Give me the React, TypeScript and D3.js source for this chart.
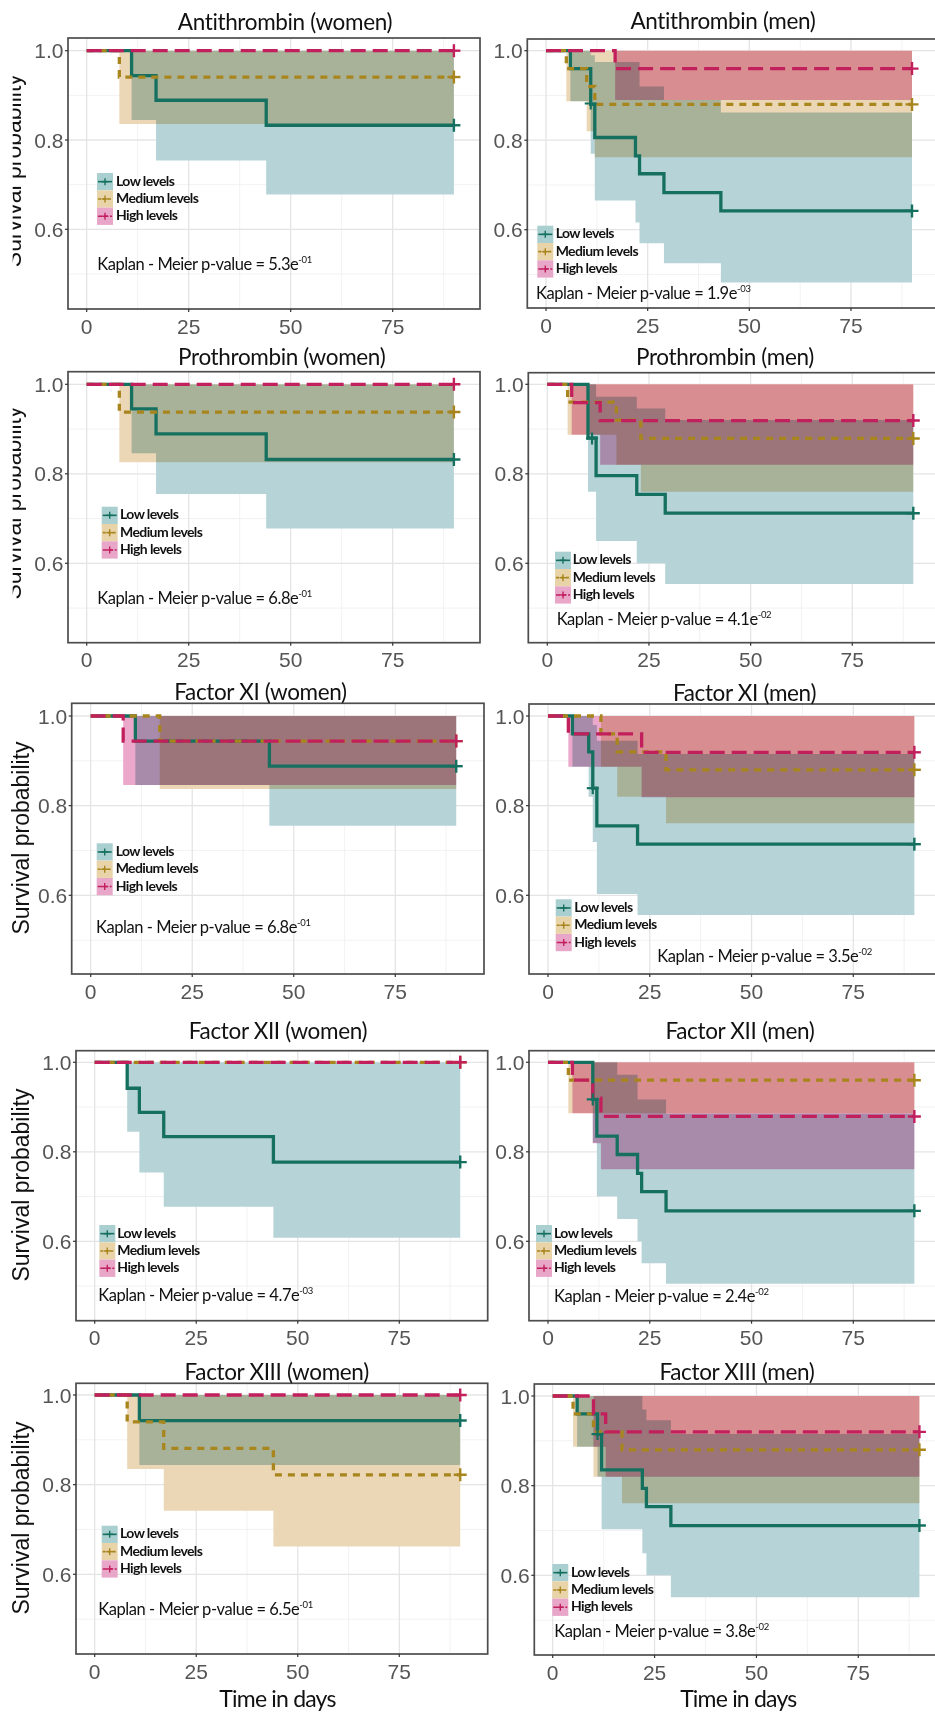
import React from "react"
import * as d3 from "d3"

// Kaplan-Meier steps: [time, survival, lower CI, upper CI]
const followUp = 90

const atWomenLow = [[0, 1, 1, 1], [11, 0.944, 0.845, 1], [17, 0.889, 0.754, 1], [44, 0.833, 0.678, 1]]
const atWomenMed = [[0, 1, 1, 1], [8, 0.941, 0.836, 1]]
const atWomenHigh = [[0, 1, 1, 1]]

const atMenLow = [[0, 1, 1, 1], [6, 0.96, 0.887, 1], [11, 0.88, 0.77, 0.99], [12, 0.806, 0.665, 0.975], [22, 0.765, 0.616, 0.975], [23, 0.725, 0.57, 0.92], [29, 0.683, 0.525, 0.89], [43, 0.642, 0.482, 0.862]]
const atMenMed = [[0, 1, 1, 1], [5, 0.96, 0.887, 1], [10, 0.92, 0.82, 1], [12, 0.88, 0.762, 1]]
const atMenHigh = [[0, 1, 1, 1], [17, 0.96, 0.89, 1]]

const ptWomenLow = [[0, 1, 1, 1], [11, 0.945, 0.846, 1], [17, 0.889, 0.755, 1], [44, 0.832, 0.678, 1]]
const ptWomenMed = [[0, 1, 1, 1], [8, 0.938, 0.826, 1]]
const ptWomenHigh = [[0, 1, 1, 1]]

const ptMenLow = [[0, 1, 1, 1], [10, 0.88, 0.76, 1], [12, 0.796, 0.65, 0.972], [22, 0.754, 0.6, 0.946], [29, 0.712, 0.554, 0.92]]
const ptMenMed = [[0, 1, 1, 1], [5, 0.96, 0.887, 1], [17, 0.92, 0.82, 1], [23, 0.879, 0.76, 1]]
const ptMenHigh = [[0, 1, 1, 1], [6, 0.959, 0.887, 1], [13, 0.919, 0.82, 1]]

const f11WomenLow = [[0, 1, 1, 1], [11, 0.944, 0.846, 1], [44, 0.888, 0.755, 1]]
const f11WomenMed = [[0, 1, 1, 1], [17, 0.944, 0.837, 1]]
const f11WomenHigh = [[0, 1, 1, 1], [8, 0.944, 0.846, 1]]

const f11MenLow = [[0, 1, 1, 1], [6, 0.96, 0.887, 1], [10, 0.92, 0.82, 1], [11, 0.839, 0.719, 0.98], [12, 0.755, 0.603, 0.945], [22, 0.714, 0.556, 0.915]]
const f11MenMed = [[0, 1, 1, 1], [13, 0.96, 0.887, 1], [17, 0.92, 0.82, 1], [29, 0.88, 0.761, 1]]
const f11MenHigh = [[0, 1, 1, 1], [5, 0.96, 0.887, 1], [23, 0.919, 0.819, 1]]

const f12WomenLow = [[0, 1, 1, 1], [8, 0.942, 0.845, 1], [11, 0.888, 0.754, 1], [17, 0.834, 0.677, 1], [44, 0.777, 0.608, 1]]
const f12WomenMed = [[0, 1, 1, 1]]
const f12WomenHigh = [[0, 1, 1, 1]]

const f12MenLow = [[0, 1, 1, 1], [11, 0.917, 0.82, 1], [12, 0.835, 0.7, 1], [17, 0.794, 0.65, 0.972], [22, 0.752, 0.6, 0.917], [23, 0.711, 0.551, 0.917], [29, 0.668, 0.505, 0.885]]
const f12MenMed = [[0, 1, 1, 1], [5, 0.96, 0.886, 1]]
const f12MenHigh = [[0, 1, 1, 1], [6, 0.96, 0.886, 1], [11, 0.92, 0.819, 1], [13, 0.879, 0.761, 1]]

const f13WomenLow = [[0, 1, 1, 1], [11, 0.943, 0.844, 1]]
const f13WomenMed = [[0, 1, 1, 1], [8, 0.94, 0.835, 1], [17, 0.881, 0.742, 1], [44, 0.822, 0.662, 1]]
const f13WomenHigh = [[0, 1, 1, 1]]

const f13MenLow = [[0, 1, 1, 1], [6, 0.96, 0.887, 1], [11, 0.915, 0.82, 1], [12, 0.835, 0.703, 1], [22, 0.794, 0.649, 0.97], [23, 0.753, 0.6, 0.946], [29, 0.711, 0.551, 0.915]]
const f13MenMed = [[0, 1, 1, 1], [5, 0.96, 0.887, 1], [10, 0.92, 0.82, 1], [17, 0.88, 0.761, 1]]
const f13MenHigh = [[0, 1, 1, 1], [10, 0.96, 0.887, 1], [13, 0.92, 0.82, 1]]

// censored observations before the end of follow-up (low group only)
const midCensors = [[], [11, 0.882], [], [11, 0.879], [], [11, 0.839], [], [11, 0.917], [], [11, 0.915]]

const titles = [
  "Antithrombin (women)", "Antithrombin (men)",
  "Prothrombin (women)", "Prothrombin (men)",
  "Factor XI (women)", "Factor XI (men)",
  "Factor XII (women)", "Factor XII (men)",
  "Factor XIII (women)", "Factor XIII (men)",
]
const pMantissa = ["5.3", "1.9", "6.8", "4.1", "6.8", "3.5", "4.7", "2.4", "6.5", "3.8"]
const pExponent = ["-01", "-03", "-01", "-02", "-01", "-02", "-03", "-02", "-01", "-02"]

const levelLabels = ["Low levels", "Medium levels", "High levels"]
const xTicks = [0, 25, 50, 75]
const xMinor = [12.5, 37.5, 62.5, 87.5]
const yTicks = [0.6, 0.8, 1.0]
const yMinor = [0.5, 0.7, 0.9]

const curves = [
  [atWomenLow, atWomenMed, atWomenHigh], [atMenLow, atMenMed, atMenHigh],
  [ptWomenLow, ptWomenMed, ptWomenHigh], [ptMenLow, ptMenMed, ptMenHigh],
  [f11WomenLow, f11WomenMed, f11WomenHigh], [f11MenLow, f11MenMed, f11MenHigh],
  [f12WomenLow, f12WomenMed, f12WomenHigh], [f12MenLow, f12MenMed, f12MenHigh],
  [f13WomenLow, f13WomenMed, f13WomenHigh], [f13MenLow, f13MenMed, f13MenHigh],
]

const styles = [
  { line: "#15705f", fill: "#b6d3d7", key: "#a9cfd1", dash: undefined, keyDash: undefined },
  { line: "#a8851d", fill: "#ebd7b6", key: "#e9d4aa", dash: "7,6", keyDash: "3,2" },
  { line: "#c21f5d", fill: "#eba8ca", key: "#e8a7c9", dash: "15,7", keyDash: "4,2" },
]

// layout measured off the composite figure
const layout = [
  { box: [68, 38, 480, 309], x0: 86.7, x75: 392.7, y1: 50.7, y06: 229.3, title: [285, 30], legend: [97, 173, 116], pv: [97.3, 270], yTitle: [20.5, 170.7], cut: 12.7 },
  { box: [527.3, 39, 945, 308], x0: 546, x75: 851, y1: 50.7, y06: 229.7, title: [723, 29], legend: [537.3, 225.7, 555.7], pv: [536, 299] },
  { box: [68, 371.7, 480, 642.7], x0: 86.7, x75: 392.7, y1: 384.3, y06: 563.3, title: [281.7, 365], legend: [101.7, 506.7, 120], pv: [97.3, 604], yTitle: [20.5, 503], cut: 12.7 },
  { box: [528.3, 372.7, 945, 642.7], x0: 547.3, x75: 852.3, y1: 384.3, y06: 563.3, title: [725, 365], legend: [555, 551.7, 572.7], pv: [556.7, 625] },
  { box: [71.7, 703.3, 484, 974], x0: 90.7, x75: 395.3, y1: 716, y06: 895.3, title: [260.5, 700], legend: [96.7, 843.3, 115.7], pv: [96, 932.7], yTitle: [28.5, 838] },
  { box: [529, 704, 945, 974], x0: 548, x75: 853.3, y1: 716, y06: 895.3, title: [744.5, 700.7], legend: [555.7, 899.3, 574.3], pv: [657.3, 961.7], labelCut: 496 },
  { box: [76, 1050.7, 487.7, 1320.7], x0: 94.7, x75: 399.3, y1: 1062.3, y06: 1241.3, title: [278, 1039], legend: [99.3, 1225, 117.3], pv: [98.3, 1300.7], yTitle: [28.5, 1185] },
  { box: [529, 1050.7, 945, 1320.7], x0: 548, x75: 853.3, y1: 1062.3, y06: 1241.3, title: [740, 1039], legend: [536, 1225, 554], pv: [554, 1301.7] },
  { box: [76, 1383.3, 487.7, 1654], x0: 94.7, x75: 399.3, y1: 1395, y06: 1574.3, title: [276.7, 1380], legend: [101.7, 1525.7, 120], pv: [98.3, 1615], yTitle: [28.5, 1518], xTitle: [277.5, 1706.7] },
  { box: [534.3, 1384, 945, 1655], x0: 552.7, x75: 858.3, y1: 1396, y06: 1575.3, title: [737, 1380], legend: [552.3, 1564, 571], pv: [554.3, 1636.7], xTitle: [738.3, 1707] },
]

const W = 935
const H = 1715
const titleFont = "Lato, 'Open Sans', sans-serif"
const axisFont = "'Liberation Sans', Arial, sans-serif"

function Plus({ cx, cy, r, color, w }) {
  return (
    <g stroke={color} strokeWidth={w}>
      <line x1={cx - r} x2={cx + r} y1={cy} y2={cy} />
      <line x1={cx} x2={cx} y1={cy - r} y2={cy + r} />
    </g>
  )
}

function Panel({ i }) {
  const L = layout[i]
  const [l, t, r, b] = L.box
  const x = d3.scaleLinear().domain([0, 75]).range([L.x0, L.x75])
  const y = d3.scaleLinear().domain([0.6, 1]).range([L.y06, L.y1])
  const yTop = y.invert(t)
  const yBot = y.invert(b)
  const xLeft = x.invert(l)
  const xRight = x.invert(r)

  const withEnd = (steps) => [...steps, [followUp, ...steps[steps.length - 1].slice(1)]]
  const band = d3.area()
    .curve(d3.curveStepAfter)
    .x(d => x(d[0]))
    .y0(d => y(d[2]))
    .y1(d => y(d[3]))
  const line = d3.line()
    .curve(d3.curveStepAfter)
    .x(d => x(d[0]))
    .y(d => y(d[1]))

  const clipId = "plot" + i
  const sets = curves[i]
  const [kx, ky, tx] = L.legend
  const rowH = 17.3

  return (
    <g>
      <defs>
        <clipPath id={clipId}>
          <rect x={l} y={t} width={r - l} height={b - t} />
        </clipPath>
        {L.labelCut && (
          <clipPath id={"lab" + i}>
            <rect x={L.labelCut} y={t - 20} width={l - L.labelCut} height={b - t + 40} />
          </clipPath>
        )}
        {L.cut && (
          <clipPath id={"yt" + i}>
            <rect x={L.cut} y={t} width={40} height={b - t} />
          </clipPath>
        )}
      </defs>
      <rect x={l} y={t} width={r - l} height={b - t} fill="#ffffff" />
      <g clipPath={`url(#${clipId})`}>
        {yMinor.filter(v => v > yBot && v < yTop).map(v => (
          <line key={"ym" + v} x1={l} x2={r} y1={y(v)} y2={y(v)} stroke="#f0f0f0" strokeWidth={0.9} />
        ))}
        {xMinor.filter(v => v > xLeft && v < xRight).map(v => (
          <line key={"xm" + v} x1={x(v)} x2={x(v)} y1={t} y2={b} stroke="#f0f0f0" strokeWidth={0.9} />
        ))}
        {yTicks.map(v => (
          <line key={"yg" + v} x1={l} x2={r} y1={y(v)} y2={y(v)} stroke="#e4e4e4" strokeWidth={1.3} />
        ))}
        {xTicks.map(v => (
          <line key={"xg" + v} x1={x(v)} x2={x(v)} y1={t} y2={b} stroke="#e4e4e4" strokeWidth={1.3} />
        ))}
        <g style={{ isolation: "isolate" }}>
          {sets.map((s, k) => (
            <path key={"band" + k} d={band(withEnd(s))} fill={styles[k].fill} style={{ mixBlendMode: "multiply" }} />
          ))}
        </g>
        {sets.map((s, k) => (
          <path key={"line" + k} d={line(withEnd(s))} fill="none" stroke={styles[k].line}
            strokeWidth={3.3} strokeDasharray={styles[k].dash} />
        ))}
        {midCensors[i].length > 0 && (
          <Plus cx={x(midCensors[i][0])} cy={y(midCensors[i][1])} r={6} color={styles[0].line} w={2.2} />
        )}
        {sets.map((s, k) => (
          <Plus key={"cen" + k} cx={x(followUp)} cy={y(s[s.length - 1][1])} r={6.5} color={styles[k].line} w={2.4} />
        ))}
      </g>
      <rect x={l} y={t} width={r - l} height={b - t} fill="none" stroke="#4d4d4d" strokeWidth={1.7} />

      {/* axes */}
      <g clipPath={L.labelCut ? `url(#lab${i})` : undefined}>
        {yTicks.map(v => (
          <g key={"yt" + v}>
            <line x1={l - 3} x2={l} y1={y(v)} y2={y(v)} stroke="#333" strokeWidth={1.2} />
            <text x={l - 4.5} y={y(v) + 7.5} textAnchor="end" fontFamily={axisFont} fontSize={21} fill="#555">
              {v.toFixed(1)}
            </text>
          </g>
        ))}
      </g>
      {xTicks.map(v => (
        <g key={"xt" + v}>
          <line x1={x(v)} x2={x(v)} y1={b} y2={b + 3} stroke="#333" strokeWidth={1.2} />
          <text x={x(v)} y={b + 24.5} textAnchor="middle" fontFamily={axisFont} fontSize={21} fill="#555">
            {v}
          </text>
        </g>
      ))}

      <text x={L.title[0]} y={L.title[1]} textAnchor="middle" fontFamily={titleFont} fontSize={22.5}
        fill="#111" letterSpacing={-0.35}>
        {titles[i]}
      </text>

      {L.yTitle && (
        <g clipPath={L.cut ? `url(#yt${i})` : undefined}>
          <text transform={`translate(${L.yTitle[0]},${L.yTitle[1]}) rotate(-90)`} textAnchor="middle"
            fontFamily={axisFont} fontSize={23} fill="#111">
            Survival probability
          </text>
        </g>
      )}
      {L.xTitle && (
        <text x={L.xTitle[0]} y={L.xTitle[1]} textAnchor="middle" fontFamily={titleFont} fontSize={23}
          fill="#111" letterSpacing={-0.8}>
          Time in days
        </text>
      )}

      {/* legend */}
      {levelLabels.map((lab, k) => {
        const yy = ky + k * rowH
        return (
          <g key={"leg" + k}>
            <rect x={kx} y={yy} width={16} height={rowH} fill={styles[k].key} />
            <line x1={kx + 1} x2={kx + 15} y1={yy + rowH / 2} y2={yy + rowH / 2} stroke={styles[k].line}
              strokeWidth={1.6} strokeDasharray={styles[k].keyDash} />
            <Plus cx={kx + 8} cy={yy + rowH / 2} r={3.5} color={styles[k].line} w={1.4} />
            <text x={tx} y={yy + 12.7} fontFamily={titleFont} fontWeight={700} fontSize={14} fill="#111"
              letterSpacing={-0.6}>
              {lab}
            </text>
          </g>
        )
      })}

      <text x={L.pv[0]} y={L.pv[1]} fontFamily={titleFont} fontSize={16.5} fill="#111" letterSpacing={-0.45}>
        {"Kaplan - Meier p-value = " + pMantissa[i] + "e"}
        <tspan dy={-7} fontSize={9.5} letterSpacing={-0.3}>{pExponent[i]}</tspan>
      </text>
    </g>
  )
}

export default function App() {
  return (
    <svg width={W} height={H} style={{ position: "absolute", left: 0, top: 0, background: "#fff" }}>
      <rect x={0} y={0} width={W} height={H} fill="#fff" />
      {layout.map((_, i) => (
        <Panel key={i} i={i} />
      ))}
    </svg>
  )
}
